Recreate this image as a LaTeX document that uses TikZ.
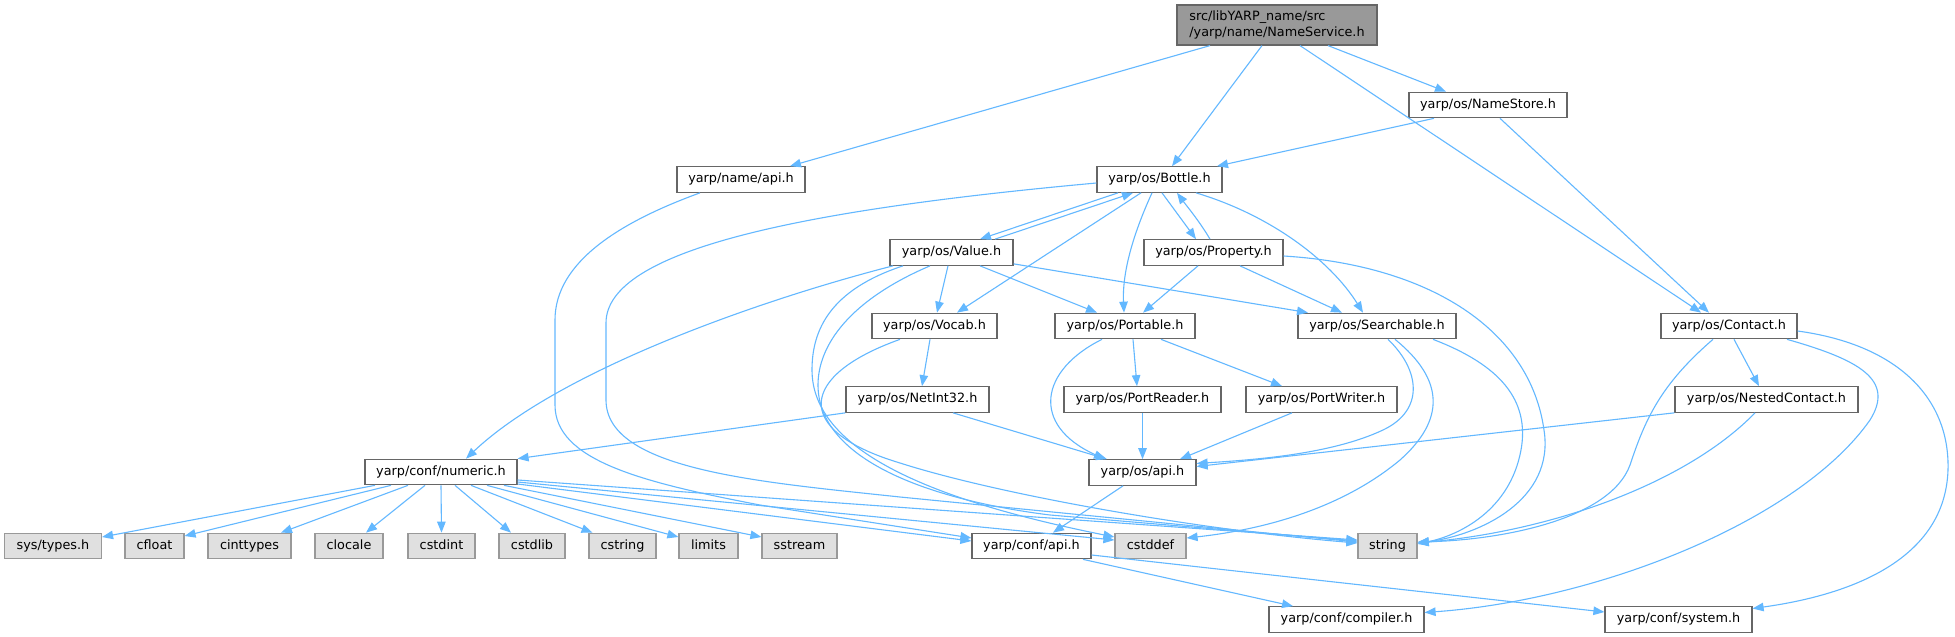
\documentclass[tikz,border=0pt]{standalone}
\usepackage{fontspec}
\setmainfont{DejaVu Sans}
\usetikzlibrary{arrows.meta}
\definecolor{edgec}{HTML}{63B8FF}
\definecolor{bordc}{HTML}{666666}
\definecolor{gbord}{HTML}{999999}
\definecolor{gfill}{HTML}{E0E0E0}
\definecolor{rfill}{HTML}{999999}
\begin{document}
\begin{tikzpicture}[x=1pt,y=-1pt,
  wbox/.style={draw=bordc,fill=white,line width=1.2pt,minimum width=#1,minimum height=25.5pt,inner sep=0pt,
    font=\fontsize{12.8}{15}\selectfont,text height=9.6pt,text depth=2.8pt},
  gbox/.style={wbox=#1,draw=gbord,fill=gfill},
  dep/.style={draw=edgec,line width=1.1pt,-{Triangle[length=11pt,width=8.5pt]}}]
\fill[white] (0,0) rectangle (1955,637);
\useasboundingbox (0,0) rectangle (1955,637);

% nodes
\node[draw=bordc,fill=rfill,line width=1.2pt,minimum width=200pt,minimum height=40pt,inner sep=0pt,align=left,
  font=\fontsize{12.8}{16}\selectfont] (root) at (1277,25) {src/libYARP\_name/src\\/yarp/name/NameService.h};
\node[wbox=128pt] (nameapi) at (741,179.5) {yarp/name/api.h};
\node[wbox=125pt] (bottle) at (1159.5,179.5) {yarp/os/Bottle.h};
\node[wbox=158pt] (namestore) at (1488,105) {yarp/os/NameStore.h};
\node[wbox=123pt] (value) at (951.5,252.5) {yarp/os/Value.h};
\node[wbox=139pt] (property) at (1213.5,252.5) {yarp/os/Property.h};
\node[wbox=125pt] (vocab) at (934.5,326) {yarp/os/Vocab.h};
\node[wbox=140pt] (portable) at (1125,326) {yarp/os/Portable.h};
\node[wbox=158pt] (searchable) at (1377,326) {yarp/os/Searchable.h};
\node[wbox=136pt] (contact) at (1729,326) {yarp/os/Contact.h};
\node[wbox=143pt] (netint) at (917.5,399.5) {yarp/os/NetInt32.h};
\node[wbox=157pt] (portreader) at (1142.5,399.5) {yarp/os/PortReader.h};
\node[wbox=151pt] (portwriter) at (1321.5,399.5) {yarp/os/PortWriter.h};
\node[wbox=183pt] (nested) at (1766.5,399.5) {yarp/os/NestedContact.h};
\node[wbox=152pt] (numeric) at (441,472) {yarp/conf/numeric.h};
\node[wbox=107pt] (osapi) at (1142.5,472.5) {yarp/os/api.h};
\node[gbox=97pt] (systypes) at (53,546) {sys/types.h};
\node[gbox=59pt] (cfloat) at (154.5,546) {cfloat};
\node[gbox=83pt] (cinttypes) at (249.5,546) {cinttypes};
\node[gbox=68pt] (clocale) at (349,546) {clocale};
\node[gbox=67pt] (cstdint) at (441.5,546) {cstdint};
\node[gbox=66pt] (cstdlib) at (532,546) {cstdlib};
\node[gbox=67pt] (cstring) at (622.5,546) {cstring};
\node[gbox=59pt] (limits) at (708.5,546) {limits};
\node[gbox=75pt] (sstream) at (799.5,546) {sstream};
\node[wbox=119pt] (confapi) at (1031.5,546) {yarp/conf/api.h};
\node[gbox=71pt] (cstddef) at (1150.5,546) {cstddef};
\node[gbox=59pt] (string) at (1387.5,546) {string};
\node[wbox=155pt] (compiler) at (1346.5,619.5) {yarp/conf/compiler.h};
\node[wbox=147pt] (system) at (1678.5,619.5) {yarp/conf/system.h};

% root
\draw[dep] ([xshift=-67pt]root.south) -- ([xshift=49pt]nameapi.north);
\draw[dep] ([xshift=-15pt]root.south) -- ([xshift=12.5pt]bottle.north);
\draw[dep] ([xshift=23pt]root.south) -- ([xshift=-28pt]contact.north);
\draw[dep] ([xshift=51pt]root.south) -- ([xshift=-42pt]namestore.north);
% namestore
\draw[dep] ([xshift=-54pt]namestore.south) -- ([xshift=57.5pt]bottle.north);
\draw[dep] ([xshift=12pt]namestore.south) -- ([xshift=-20pt]contact.north);
% name api
\draw[dep] ([xshift=-41pt]nameapi.south) .. controls (620,222) and (555,262) .. (555,320) -- (555,405)
  .. controls (555,460) and (640,482) .. (760,505) -- ([yshift=8pt]confapi.west);
% bottle
\draw[dep] ([yshift=-3.5pt]bottle.west) .. controls (800,210) and (606,250) .. (606,323) -- (606,400)
  .. controls (606,470) and (760,482) .. (900,497) -- ([yshift=4pt]string.west);
\draw[dep] ([xshift=-41.5pt]bottle.south) -- ([xshift=28.5pt]value.north);
\draw[dep] ([xshift=43.5pt]value.north) -- ([xshift=-26.5pt]bottle.south);
\draw[dep] ([xshift=-18.5pt]bottle.south) -- ([xshift=22.5pt]vocab.north);
\draw[dep] ([xshift=-7.5pt]bottle.south) .. controls (1135,230) and (1122,270) .. ([xshift=-1pt]portable.north);
\draw[dep] ([xshift=2.5pt]bottle.south) -- ([xshift=-17.5pt]property.north);
\draw[dep] ([xshift=-3.5pt]property.north) .. controls (1200,222) and (1186,205) .. ([xshift=17.5pt]bottle.south);
\draw[dep] ([xshift=36.5pt]bottle.south) .. controls (1270,215) and (1330,260) .. ([xshift=-14pt]searchable.north);
% value
\draw[dep] ([xshift=-58.5pt]value.south) .. controls (760,300) and (560,370) .. ([xshift=25pt]numeric.north);
\draw[dep] ([xshift=-3.5pt]value.south) -- ([xshift=2.5pt]vocab.north);
\draw[dep] ([xshift=28.5pt]value.south) -- ([xshift=-28pt]portable.north);
\draw[dep] ([yshift=2pt]value.south east) -- ([xshift=-69pt]searchable.north);
\draw[dep] ([xshift=-48.5pt]value.south) .. controls (830,290) and (812,330) .. (812,370)
  .. controls (812,450) and (930,500) .. ([yshift=9pt]cstddef.west);
\draw[dep] ([xshift=-21.5pt]value.south) .. controls (850,300) and (818,345) .. (818,385)
  .. controls (818,460) and (930,500) .. (1050,515) -- ([yshift=5pt]string.west);
% vocab
\draw[dep] ([xshift=-4.5pt]vocab.south) -- ([xshift=4.5pt]netint.north);
\draw[dep] ([xshift=-34.5pt]vocab.south) .. controls (800,375) and (790,430) .. (900,463)
  .. controls (1000,495) and (1200,530) .. ([yshift=3pt]string.west);
% property
\draw[dep] ([xshift=-15.5pt]property.south) -- ([xshift=18pt]portable.north);
\draw[dep] ([xshift=26.5pt]property.south) -- ([xshift=-35pt]searchable.north);
\draw[dep] ([yshift=-3.5pt]property.east) .. controls (1430,265) and (1530,330) .. (1544,430)
  .. controls (1555,500) and (1480,535) .. ([yshift=3pt]string.east);
% portable
\draw[dep] ([xshift=8pt]portable.south) -- ([xshift=-5.5pt]portreader.north);
\draw[dep] ([xshift=36pt]portable.south) -- ([xshift=-39.5pt]portwriter.north);
\draw[dep] ([xshift=-23pt]portable.south) .. controls (1040,370) and (1030,425) .. ([xshift=-37.5pt]osapi.north);
% searchable
\draw[dep] ([xshift=11pt]searchable.south) .. controls (1420,370) and (1425,410) .. (1383,430)
  .. controls (1330,455) and (1250,460) .. ([yshift=9pt]osapi.east);
\draw[dep] ([xshift=18pt]searchable.south) .. controls (1445,380) and (1445,420) .. (1400,460)
  .. controls (1340,510) and (1260,530) .. ([yshift=8pt]cstddef.east);
\draw[dep] ([xshift=56pt]searchable.south) .. controls (1500,365) and (1530,400) .. (1521,450)
  .. controls (1510,510) and (1460,535) .. ([yshift=2pt]string.east);
% netint
\draw[dep] (netint.south west) -- (numeric.north east);
\draw[dep] ([xshift=35.5pt]netint.south) -- ([xshift=-35.5pt]osapi.north);
% port reader / writer
\draw[dep] (portreader.south) -- (osapi.north);
\draw[dep] ([xshift=-29.5pt]portwriter.south) -- ([xshift=37.5pt]osapi.north);
% contact
\draw[dep] ([xshift=5pt]contact.south) -- ([xshift=-7.5pt]nested.north);
\draw[dep] ([xshift=-16pt]contact.south) .. controls (1660,385) and (1645,420) .. (1630,465)
  .. controls (1610,520) and (1500,540) .. ([yshift=4pt]string.east);
\draw[dep] ([xshift=58pt]contact.south) .. controls (1860,360) and (1895,380) .. (1870,420)
  .. controls (1800,520) and (1600,600) .. ([yshift=7pt]compiler.east);
\draw[dep] ([yshift=-5pt]contact.east) .. controls (1900,345) and (1950,400) .. (1948,470)
  .. controls (1945,560) and (1850,595) .. ([yshift=11pt]system.east);
% nested
\draw[dep] (nested.south west) -- ([yshift=6pt]osapi.east);
\draw[dep] ([xshift=-11.5pt]nested.south) .. controls (1690,480) and (1560,530) .. ([yshift=3pt]string.east);
% os api
\draw[dep] ([xshift=-19.5pt]osapi.south) -- ([xshift=21.5pt]confapi.north);
% conf api
\draw[dep] ([xshift=51.5pt]confapi.south) -- ([xshift=-53.5pt]compiler.north);
\draw[dep] ([yshift=-9pt]confapi.east) -- ([yshift=7.5pt]system.west);
% numeric
\draw[dep] ([xshift=-66pt]numeric.south) -- ([yshift=9pt]systypes.east);
\draw[dep] ([xshift=-50pt]numeric.south) -- ([yshift=10pt]cfloat.east);
\draw[dep] ([xshift=-33pt]numeric.south) -- ([xshift=31.5pt]cinttypes.north);
\draw[dep] ([xshift=-16pt]numeric.south) -- ([xshift=17pt]clocale.north);
\draw[dep] (numeric.south) -- (cstdint.north);
\draw[dep] ([xshift=14pt]numeric.south) -- ([xshift=-21pt]cstdlib.north);
\draw[dep] ([xshift=30pt]numeric.south) -- ([xshift=-30pt]cstring.north);
\draw[dep] ([xshift=46pt]numeric.south) -- ([yshift=9pt]limits.west);
\draw[dep] ([xshift=63pt]numeric.south) -- ([yshift=9pt]sstream.west);
\draw[dep] ([yshift=-12pt]numeric.east) -- ([yshift=5pt]confapi.west);
\draw[dep] ([yshift=-10pt]numeric.east) -- ([yshift=6pt]cstddef.west);
\draw[dep] ([yshift=-8pt]numeric.east) -- ([yshift=6pt]string.west);
\end{tikzpicture}
\end{document}
